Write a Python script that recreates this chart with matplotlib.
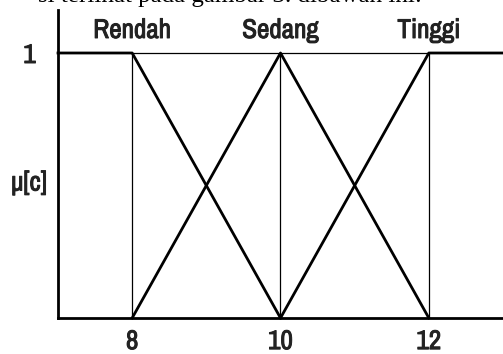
import matplotlib
matplotlib.use("Agg")
import matplotlib.pyplot as plt
import matplotlib.patheffects as pe
from matplotlib import font_manager

names = {f.name for f in font_manager.fontManager.ttflist}
if 'Archivo Narrow' in names:
    FAM = ['Archivo Narrow', 'DejaVu Sans']
    STRETCH = 'normal'
else:
    FAM = ['DejaVu Sans']
    STRETCH = 'condensed'

# Data
set_names = ["Rendah", "Sedang", "Tinggi"]
set_label_x = [8, 10, 12]
rendah_x = [7, 8, 10]
rendah_y = [1, 1, 0]
sedang_x = [8, 10, 12]
sedang_y = [0, 1, 0]
tinggi_x = [10, 12, 13]
tinggi_y = [0, 1, 1]
xtick_vals = [8, 10, 12]
xtick_labels = ["8", "10", "12"]
ytick_vals = [1]
ytick_labels = ["1"]
guide_x = [8, 10, 12]

W, H = 503, 354
fig = plt.figure(figsize=(W / 100, H / 100), dpi=100)
left_px, right_px = 58, 503
bottom_px, top_px = 318, 10
ax = fig.add_axes([left_px / W, (H - bottom_px) / H,
                   (right_px - left_px) / W, (bottom_px - top_px) / H])
y1_px = 53
ytop = (bottom_px - top_px) / (bottom_px - y1_px)
ax.set_xlim(7, 13)
ax.set_ylim(0, ytop)

for s in ["top", "right"]:
    ax.spines[s].set_visible(False)
for s in ["left", "bottom"]:
    ax.spines[s].set_linewidth(2.0)
    ax.spines[s].set_color("black")

# thin guide lines
for gx in guide_x:
    ax.plot([gx, gx], [0, 1], color="black", lw=0.9, solid_capstyle="butt")
ax.plot([guide_x[0], guide_x[-1]], [1, 1], color="black", lw=0.9)

lw = 2.0
ax.plot(rendah_x, rendah_y, color="black", lw=lw, clip_on=False)
ax.plot(sedang_x, sedang_y, color="black", lw=lw, clip_on=False)
ax.plot(tinggi_x, tinggi_y, color="black", lw=lw, clip_on=False)

tc = "#222222"
fs = 19.5
bold = [pe.withStroke(linewidth=0.7, foreground=tc)]
for name, lx in zip(set_names, set_label_x):
    ax.text(lx, 1.085, name, ha="center", va="center", fontsize=fs,
            family=FAM, fontstretch=STRETCH, color=tc, path_effects=bold)

ax.set_xticks(xtick_vals)
ax.set_xticklabels(xtick_labels, family=FAM, fontstretch=STRETCH, fontsize=fs, color=tc)
ax.set_yticks(ytick_vals)
ax.set_yticklabels(ytick_labels, family=FAM, fontstretch=STRETCH, fontsize=fs, color=tc)
for t in ax.get_xticklabels() + ax.get_yticklabels():
    t.set_path_effects(bold)
ax.tick_params(axis="both", length=0)
ax.tick_params(axis="x", pad=8)
ax.tick_params(axis="y", pad=16)

ax.set_ylabel("μ[c]", rotation=0, family=FAM, fontstretch=STRETCH, fontsize=fs,
              color=tc, va="center", ha="center", path_effects=bold)
ax.yaxis.set_label_coords(-(58 - 29) / (right_px - left_px), (bottom_px - 183) / (bottom_px - top_px))

fig.text(422 / W, (H - 2) / H, "si terlihat pada gambar 3. dibawah ini:", ha="right",
         va="baseline", fontsize=18, family="Liberation Serif", color="black")

fig.savefig("out.png", dpi=100)
